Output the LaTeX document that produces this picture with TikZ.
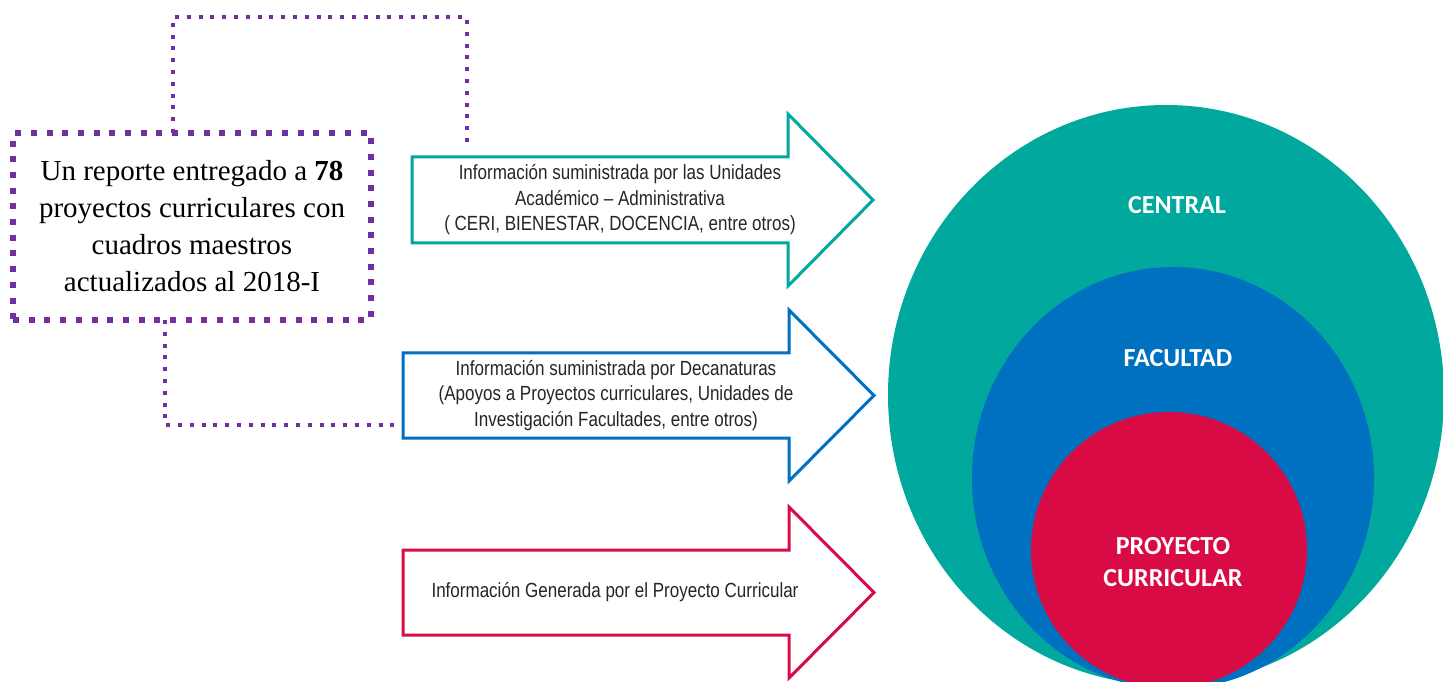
\documentclass[tikz,border=0pt]{standalone}
\usepackage{fontspec}
\usetikzlibrary{shapes.geometric, positioning, arrows.meta}
\newfontfamily\reportefont{Liberation Serif}
\newfontfamily\notafont[FakeStretch=0.83]{Liberation Sans}
\newfontfamily\nivelfont{Carlito}
\definecolor{verdeC}{RGB}{0,168,157}
\definecolor{azulC}{RGB}{0,112,192}
\definecolor{rojoC}{RGB}{217,11,69}
\definecolor{moradoC}{RGB}{112,48,160}
\tikzset{
    reporte/.style={
        rectangle, minimum width=358pt, minimum height=187pt, outer sep=0pt, align=center, draw=moradoC, line width=6pt, dash pattern=on 6pt off 9.7pt, font=\reportefont\fontsize{29}{37}\selectfont
    },
    cuerpo/.style={
        rectangle, minimum height=85pt, inner sep=0pt, outer sep=0pt
    },
    nota/.style={
        align=center, text=black!85, font=\notafont\fontsize{20.5}{25.5}\selectfont
    },
    borde/.style={
        line width=3pt, fill=white, line join=miter
    },
    enlace/.style={
        draw=moradoC, line width=4pt, dash pattern=on 4pt off 7.8pt
    },
    nivel/.style={
        ellipse, inner sep=0pt, outer sep=0pt
    },
    rotulo/.style={
        text=white, align=center, font=\nivelfont\bfseries\fontsize{26}{32}\selectfont
    }
}

\begin{document}
\begin{tikzpicture}[x=1pt, y=1pt, node distance=2cm]
        \fill[white] (0,0) rectangle (1443,681);
        \useasboundingbox (0,0) rectangle (1443,681);

        % Nodes
        \node (reporte) [reporte] at (192,454.5) {Un reporte entregado a \textbf{78}\\ proyectos curriculares con\\ cuadros maestros\\ actualizados al 2018-I};
        \node (unidades) [cuerpo, minimum width=376pt, minimum height=86pt] at (600,481) {};
        \node (decanaturas) [cuerpo, minimum width=386pt] at (596,285.5) {};
        \node (proyecto) [cuerpo, minimum width=386pt] at (596,88.5) {};

        % Arrow outlines
        \foreach \n/\c in {unidades/verdeC, decanaturas/azulC, proyecto/rojoC}
            \draw[borde, draw=\c] (\n.south west) -- (\n.north west) -- (\n.north east) -- ++(0,43) -- ([xshift=85pt]\n.east) -- ([yshift=-43pt]\n.south east) -- (\n.south east) -- cycle;

        % Arrow texts
        \node (unidadestxt) [nota] at ([xshift=20pt]unidades.center) {Información suministrada por las Unidades\\ Académico – Administrativa\\ ( CERI, BIENESTAR, DOCENCIA, entre otros)};
        \node (decanaturastxt) [nota] at ([xshift=20pt]decanaturas.center) {Información suministrada por Decanaturas\\ (Apoyos a Proyectos curriculares, Unidades de\\ Investigación Facultades, entre otros)};
        \node (proyectotxt) [nota] at ([xshift=19pt]proyecto.center) {Información Generada por el Proyecto Curricular};

        % Links
        \draw[enlace] ([xshift=-19pt]reporte.north) -- ++(0,116) -| ([xshift=-133pt, yshift=11pt]unidades.north);
        \draw[enlace] ([xshift=-27pt]reporte.south) |- ([xshift=-3pt, yshift=-29.5pt]decanaturas.west);

        % Levels
        \begin{scope}
            \clip (0,0) rectangle (1443,681);
            \node (central) [nivel, fill=verdeC, minimum width=556pt, minimum height=580pt] at (1166,286) {};
            \node (facultad) [nivel, fill=azulC, minimum width=402pt, minimum height=422pt] at (1173,203) {};
            \node (curricular) [nivel, fill=rojoC, minimum width=276pt, minimum height=276pt] at (1169,131) {};
        \end{scope}

        % Labels for levels
        \node (centraltxt) [rotulo] at ([xshift=11pt, yshift=-100pt]central.north) {CENTRAL};
        \node (facultadtxt) [rotulo] at ([xshift=5pt, yshift=-91pt]facultad.north) {FACULTAD};
        \node (curriculartxt) [rotulo] at ([xshift=4pt, yshift=-12pt]curricular.center) {PROYECTO\\ CURRICULAR};
    \end{tikzpicture}
\end{document}
